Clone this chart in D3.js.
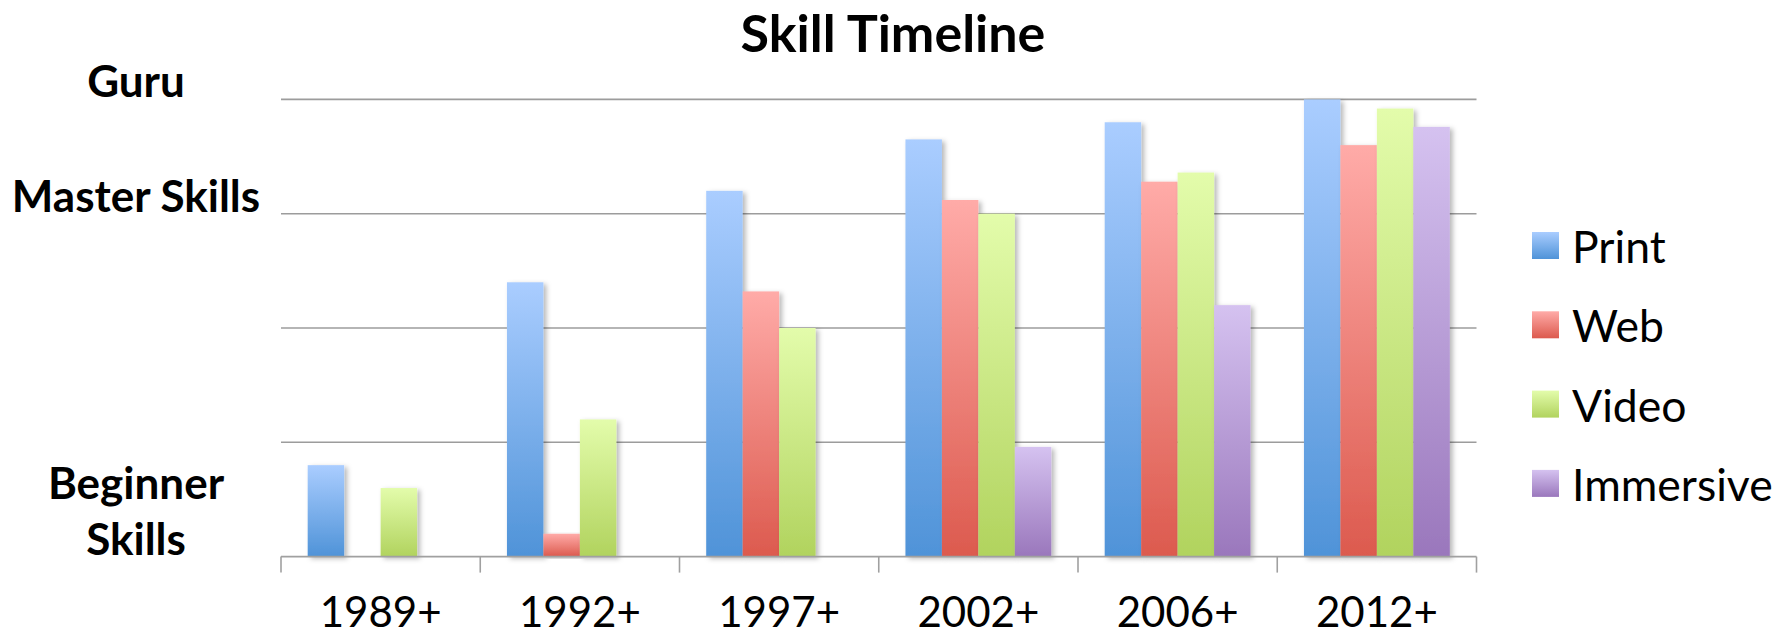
<!DOCTYPE html>
<html>
<head>
<meta charset="utf-8">
<script src="https://cdn.jsdelivr.net/npm/d3@7"></script>
<style>
  body { margin: 0; background: #fff; }
  svg { display: block; font-family: Lato, "Open Sans", sans-serif; }
</style>
</head>
<body>
<svg id="chart" width="1792" height="638"></svg>
<script>
// values, in skill levels (0 = bottom, 4 = Guru)
let categories = ["1989+", "1992+", "1997+", "2002+", "2006+", "2012+"];
let seriesNames = ["Print", "Web", "Video", "Immersive"];
let printVals = [0.8, 2.4, 3.2, 3.65, 3.8, 4.0];
let webVals = [null, 0.2, 2.32, 3.12, 3.28, 3.6];
let videoVals = [0.6, 1.2, 2.0, 3.0, 3.36, 3.92];
let immersiveVals = [null, null, null, 0.96, 2.2, 3.76];
let levelLabels = [
	{level: 0, lines: ["Beginner", "Skills"]},
	{level: 3, lines: ["Master Skills"]},
	{level: 4, lines: ["Guru"]}
];
let colorsTop = ["#aacdff", "#ffaba8", "#e3fcab", "#d5c2f0"];
let colorsBottom = ["#4f93d8", "#dc5a4e", "#b1d35e", "#9a77bc"];

let table = [printVals, webVals, videoVals, immersiveVals];

let svg = d3.select("#chart");
let plotLeft = 281, plotRight = 1476.5, plotTop = 99.4, plotBottom = 556.6;

let x0 = d3.scaleBand().domain(categories).range([plotLeft, plotRight]);
let x1 = d3.scaleBand().domain(seriesNames)
	.range([x0.bandwidth() * 0.134, x0.bandwidth() * 0.866]);
let y = d3.scaleLinear().domain([0, 4]).range([plotBottom, plotTop]);

let defs = svg.append("defs");
seriesNames.forEach((s, i) => {
	let grad = defs.append("linearGradient").attr("id", "grad" + i)
		.attr("x1", 0).attr("y1", 0).attr("x2", 0).attr("y2", 1);
	grad.append("stop").attr("offset", "0%").attr("stop-color", colorsTop[i]);
	grad.append("stop").attr("offset", "100%").attr("stop-color", colorsBottom[i]);
});
let shadow = defs.append("filter").attr("id", "shadow")
	.attr("x", "-20%").attr("y", "-5%").attr("width", "150%").attr("height", "115%");
shadow.append("feDropShadow").attr("dx", 3).attr("dy", 2)
	.attr("stdDeviation", 2.5).attr("flood-color", "#000").attr("flood-opacity", 0.28);

// gridlines
svg.append("g").selectAll("line").data([1, 2, 3, 4]).join("line")
	.attr("x1", plotLeft).attr("x2", plotRight)
	.attr("y1", d => y(d)).attr("y2", d => y(d))
	.attr("stroke", "#9c9c9c").attr("stroke-width", 1.6);

// bars
let groups = svg.append("g").selectAll("g").data(categories).join("g")
	.attr("transform", d => `translate(${x0(d)},0)`);
groups.selectAll("rect")
	.data((c, ci) => seriesNames.map((s, si) => ({s, si, v: table[si][ci]})).filter(d => d.v != null))
	.join("rect")
	.attr("x", d => x1(d.s))
	.attr("width", x1.bandwidth())
	.attr("y", d => y(d.v))
	.attr("height", d => y(0) - y(d.v))
	.attr("fill", d => `url(#grad${d.si})`)
	.attr("filter", "url(#shadow)");

// x axis with ticks between categories
let axis = svg.append("g").attr("stroke", "#a0a0a0").attr("stroke-width", 1.6);
axis.append("line").attr("x1", plotLeft).attr("x2", plotRight).attr("y1", plotBottom).attr("y2", plotBottom);
axis.selectAll("line.tick").data(categories.concat([null])).join("line").attr("class", "tick")
	.attr("x1", (d, i) => plotLeft + i * x0.step()).attr("x2", (d, i) => plotLeft + i * x0.step())
	.attr("y1", plotBottom).attr("y2", plotBottom + 16);

svg.append("g").selectAll("text").data(categories).join("text")
	.attr("x", d => x0(d) + x0.bandwidth() / 2)
	.attr("y", 627)
	.attr("text-anchor", "middle")
	.attr("font-size", 42)
	.attr("fill", "#000")
	.text(d => d);

// level labels on the left
let lab = svg.append("g").selectAll("text").data(levelLabels).join("text")
	.attr("text-anchor", "middle")
	.attr("font-weight", "bold")
	.attr("font-size", 44)
	.attr("x", 136)
	.attr("y", d => y(d.level) - 2 - (d.lines.length - 1) * 56);
lab.selectAll("tspan").data(d => d.lines).join("tspan")
	.attr("x", 136).attr("dy", (d, i) => i ? 56 : 0).text(d => d);

// title
svg.append("text").attr("x", 893).attr("y", 52)
	.attr("text-anchor", "middle").attr("font-weight", "bold").attr("font-size", 52)
	.text("Skill Timeline");

// legend
let legend = svg.append("g").selectAll("g").data(seriesNames).join("g")
	.attr("transform", (d, i) => `translate(1532,${232 + i * 79.3})`);
legend.append("rect").attr("width", 27).attr("height", 27)
	.attr("fill", (d, i) => `url(#grad${i})`);
legend.append("text").attr("x", 40).attr("y", 31)
	.attr("font-size", 44.5).text(d => d);
</script>
</body>
</html>
